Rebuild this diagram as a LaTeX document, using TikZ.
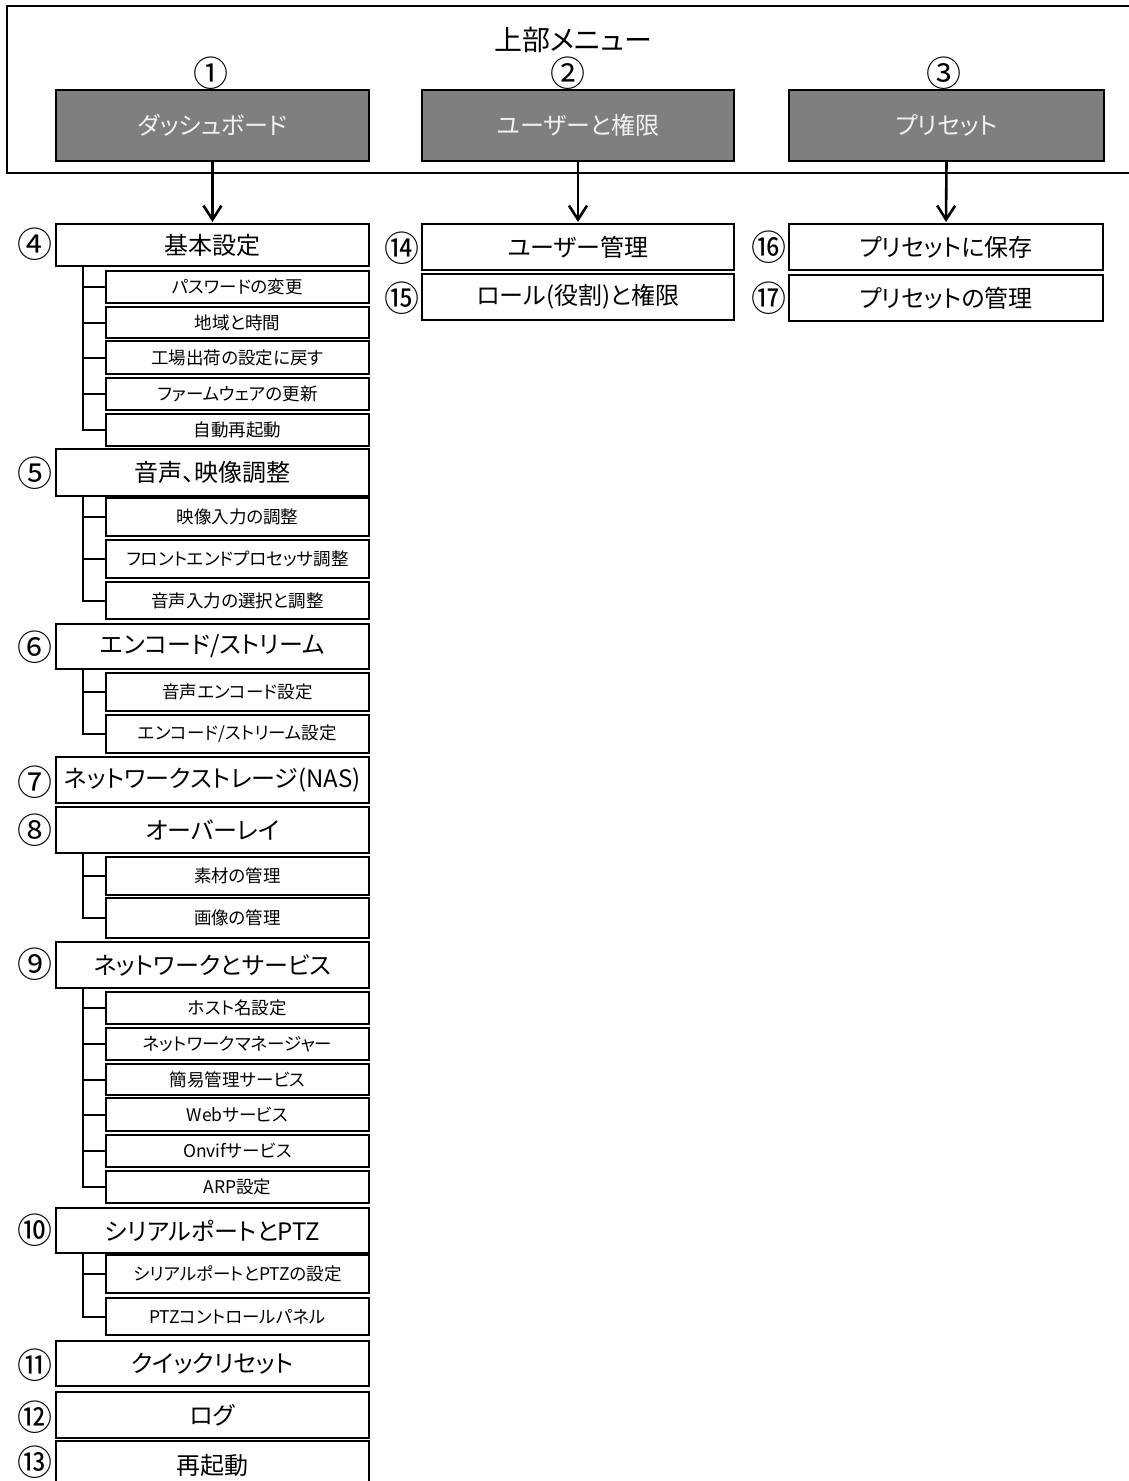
\documentclass[tikz,border=0pt]{standalone}
\usepackage{fontspec}
\setmainfont{Noto Sans CJK JP}[RawFeature=+palt]
\usetikzlibrary{arrows.meta,calc,positioning}
\definecolor{menugray}{HTML}{7F7F7F}
\definecolor{menutext}{HTML}{F2F2F2}
\tikzset{
    topbox/.style={draw=black,fill=menugray,text=menutext,line width=2pt,anchor=north west,inner sep=0pt,minimum height=71pt,font=\fontsize{24}{28}\selectfont},
    mainbox/.style={draw=black,line width=2pt,anchor=north west,inner sep=0pt,minimum width=313pt,font=\fontsize{24}{28}\selectfont},
    subbox/.style={draw=black,line width=2pt,anchor=north west,inner sep=0pt,minimum width=263pt,font=\fontsize{17.5}{22}\selectfont},
    numlabel/.style={inner sep=0pt,font=\fontsize{35}{38}\selectfont},
    menuarrow/.style={-{Straight Barb[length=14pt,width=18pt]},line width=2.6pt,shorten >=1pt},
    treeline/.style={line width=2pt}
}

\begin{document}
\begin{tikzpicture}[x=1pt,y=-1pt]
  \useasboundingbox (0,0) rectangle (1128,1481);
  % top menu frame
  \draw[line width=2pt] (7,6) rectangle (1140,173);
  \node[font=\fontsize{28}{32}\selectfont,inner sep=0pt] (title) at (573,40) {上部メニュー};
  \node[topbox,minimum width=313pt] (d1) at (55,89) {ダッシュボード};
  \node[topbox,minimum width=312pt] (d2) at (421,89) {ユーザーと権限};
  \node[topbox,minimum width=315pt] (d3) at (788,89) {プリセット};
  \node[numlabel] (n1) at (211,73) {①};
  \node[numlabel] (n2) at (568,73) {②};
  \node[numlabel] (n3) at (944,73) {③};

  % dashboard column
  \node[mainbox,minimum height=42pt] (m4) at (55,223) {基本設定};
  \node[subbox,minimum height=32pt] (s41) at (105,270) {パスワードの変更};
  \node[subbox,minimum height=31pt] (s42) at (105,306) {地域と時間};
  \node[subbox,minimum height=33pt] (s43) at (105,340) {工場出荷の設定に戻す};
  \node[subbox,minimum height=32pt] (s44) at (105,377) {ファームウェアの更新};
  \node[subbox,minimum height=32pt] (s45) at (105,413) {自動再起動};

  \node[mainbox,minimum height=47pt] (m5) at (55,448) {音声、映像調整};
  \node[subbox,minimum height=38pt] (s51) at (105,497) {映像入力の調整};
  \node[subbox,minimum height=38pt] (s52) at (105,539) {フロントエンドプロセッサ調整};
  \node[subbox,minimum height=37pt] (s53) at (105,581) {音声入力の選択と調整};

  \node[mainbox,minimum height=45pt] (m6) at (55,623) {エンコード/ストリーム};
  \node[subbox,minimum height=38pt] (s61) at (105,672) {音声エンコード設定};
  \node[subbox,minimum height=38pt] (s62) at (105,714) {エンコード/ストリーム設定};

  \node[mainbox,minimum height=46pt] (m7) at (55,756) {ネットワークストレージ(NAS)};

  \node[mainbox,minimum height=46pt] (m8) at (55,806) {オーバーレイ};
  \node[subbox,minimum height=38pt] (s81) at (105,856) {素材の管理};
  \node[subbox,minimum height=40pt] (s82) at (105,897) {画像の管理};

  \node[mainbox,minimum height=46pt] (m9) at (55,941) {ネットワークとサービス};
  \node[subbox,minimum height=32pt] (s91) at (105,991) {ホスト名設定};
  \node[subbox,minimum height=32pt] (s92) at (105,1027) {ネットワークマネージャー};
  \node[subbox,minimum height=31pt] (s93) at (105,1063) {簡易管理サービス};
  \node[subbox,minimum height=33pt] (s94) at (105,1097) {Webサービス};
  \node[subbox,minimum height=32pt] (s95) at (105,1134) {Onvifサービス};
  \node[subbox,minimum height=32pt] (s96) at (105,1170) {ARP設定};

  \node[mainbox,minimum height=45pt] (m10) at (55,1207) {シリアルポートとPTZ};
  \node[subbox,minimum height=38pt] (s101) at (105,1254) {シリアルポートとPTZの設定};
  \node[subbox,minimum height=37pt] (s102) at (105,1297) {PTZコントロールパネル};

  \node[mainbox,minimum height=45pt] (m11) at (55,1340) {クイックリセット};
  \node[mainbox,minimum height=46pt] (m12) at (55,1391) {ログ};
  \node[mainbox,minimum height=48pt] (m13) at (55,1440) {再起動};

  \node[numlabel] (n4) at (35,244) {④};
  \node[numlabel] (n5) at (35,473) {⑤};
  \node[numlabel] (n6) at (35,647) {⑥};
  \node[numlabel] (n7) at (35,782) {⑦};
  \node[numlabel] (n8) at (35,830) {⑧};
  \node[numlabel] (n9) at (35,964) {⑨};
  \node[numlabel] (n10) at (35,1230) {⑩};
  \node[numlabel] (n11) at (35,1365) {⑪};
  \node[numlabel] (n12) at (35,1417) {⑫};
  \node[numlabel] (n13) at (35,1462) {⑬};

  % user and preset columns
  \node[mainbox,minimum width=312pt,minimum height=46pt] (r14) at (421,223) {ユーザー管理};
  \node[mainbox,minimum width=312pt,minimum height=46pt] (r15) at (421,273) {ロール(役割)と権限};
  \node[mainbox,minimum width=314pt,minimum height=46pt] (r16) at (788,223) {プリセットに保存};
  \node[mainbox,minimum width=314pt,minimum height=46pt] (r17) at (788,274) {プリセットの管理};
  \node[numlabel] (n14) at (402,248) {⑭};
  \node[numlabel] (n15) at (402,298) {⑮};
  \node[numlabel] (n16) at (769,247) {⑯};
  \node[numlabel] (n17) at (769,298) {⑰};

  \draw[menuarrow] (d1.south) -- (m4.north);
  \draw[menuarrow] (d2.south) -- (r14.north);
  \draw[menuarrow] (d3.south) -- (r16.north);

  % tree lines
  \foreach \m/\last/\subs in {m4/s45/{s41,s42,s43,s44},m5/s53/{s51,s52},m6/s62/{s61},m8/s82/{s81},m9/s96/{s91,s92,s93,s94,s95},m10/s102/{s101}}{
    \coordinate (t\m) at ($(\m.south west)+(28,0)$);
    \draw[treeline] (t\m) |- (\last.west);
    \foreach \s in \subs{\draw[treeline] (t\m |- \s.west) -- (\s.west);}
  }
\end{tikzpicture}
\end{document}
